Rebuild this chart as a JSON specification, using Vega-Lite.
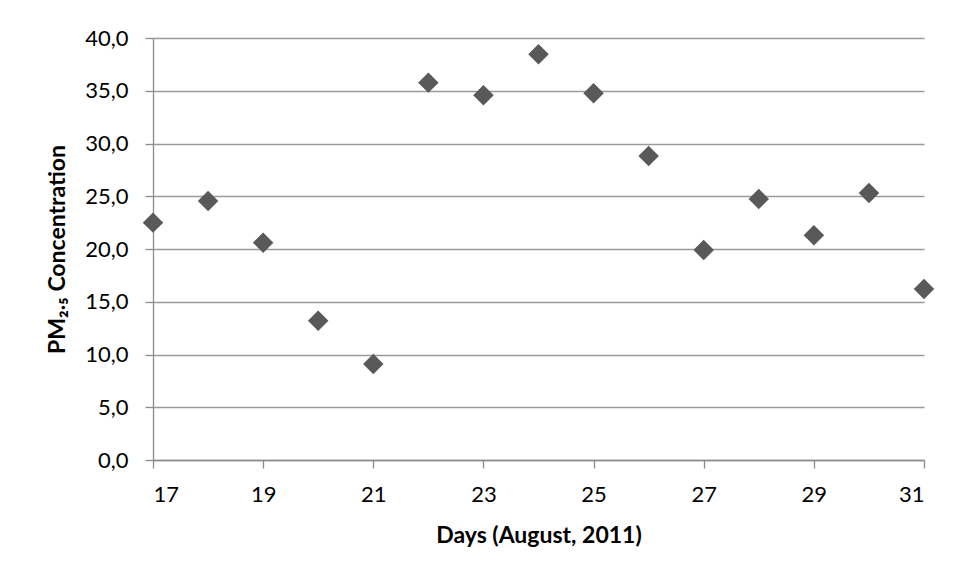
{
  "$schema": "https://vega.github.io/schema/vega-lite/v6.json",
  "width": 771,
  "height": 422,
  "autosize": "none",
  "padding": {"left": 153, "top": 38, "right": 32, "bottom": 120},
  "background": "white",
  "config": {
    "view": {"stroke": null},
    "font": "Lato",
    "axis": {
      "labelFont": "Lato",
      "titleFont": "Lato",
      "labelFontSize": 22,
      "titleFontSize": 23,
      "titleFontWeight": "bold",
      "labelColor": "#000000",
      "titleColor": "#000000",
      "domainColor": "#8c8c8c",
      "tickColor": "#8c8c8c",
      "gridColor": "#9a9a9a",
      "domainWidth": 1.3,
      "tickWidth": 1.3,
      "gridWidth": 1.3,
      "tickSize": 8
    }
  },
  "data": {
    "values": [
      {"day": 17, "pm": 22.5},
      {"day": 18, "pm": 24.55},
      {"day": 19, "pm": 20.6},
      {"day": 20, "pm": 13.2},
      {"day": 21, "pm": 9.1},
      {"day": 22, "pm": 35.77},
      {"day": 23, "pm": 34.57},
      {"day": 24, "pm": 38.45},
      {"day": 25, "pm": 34.76},
      {"day": 26, "pm": 28.82},
      {"day": 27, "pm": 19.9},
      {"day": 28, "pm": 24.74},
      {"day": 29, "pm": 21.3},
      {"day": 30, "pm": 25.3},
      {"day": 31, "pm": 16.2}
    ]
  },
  "mark": {"type": "point", "shape": "diamond", "filled": true, "size": 420, "color": "#595959", "opacity": 1},
  "encoding": {
    "x": {
      "field": "day",
      "type": "quantitative",
      "scale": {"domain": [17, 31], "nice": false, "zero": false},
      "axis": {
        "title": "Days (August, 2011)",
        "values": [17, 19, 21, 23, 25, 27, 29, 31],
        "grid": false,
        "labelPadding": 16,
        "titlePadding": 19
      }
    },
    "y": {
      "field": "pm",
      "type": "quantitative",
      "scale": {"domain": [0, 40], "nice": false},
      "axis": {
        "title": "PM₂.₅ Concentration",
        "values": [0, 5, 10, 15, 20, 25, 30, 35, 40],
        "labelExpr": "replace(format(datum.value, '.1f'), '.', ',')",
        "grid": true,
        "labelPadding": 17,
        "titlePadding": 15
      }
    }
  }
}
